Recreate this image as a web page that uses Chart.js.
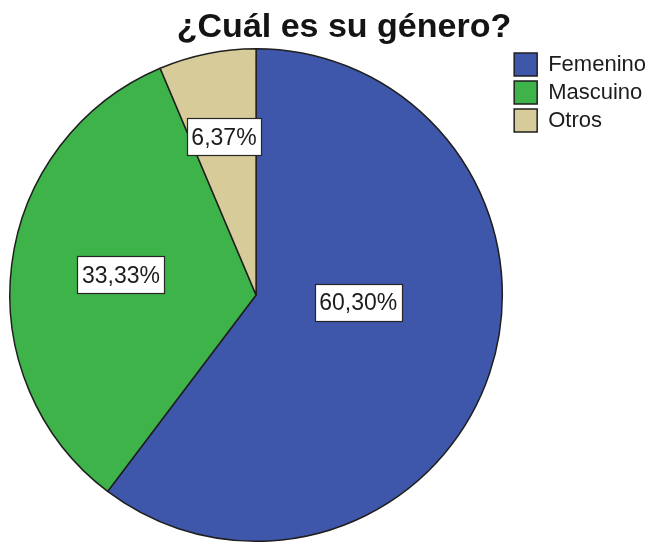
<!DOCTYPE html>
<html>
<head>
<meta charset="utf-8">
<script src="https://cdn.jsdelivr.net/npm/chart.js@4"></script>
<style>
    html, body { margin: 0; padding: 0; background: #fff; }
</style>
</head>
<body>
<canvas id="genderChart" width="653" height="546"></canvas>
<script>
const chartTitle = "¿Cuál es su género?";
const categories = ["Femenino", "Mascuino", "Otros"];
const percentages = [60.30, 33.33, 6.37];
const sliceColors = ["#3f57aa", "#3db34a", "#d7cc99"];

// where each percent box sits: share of the radius, and turn (deg) off the slice middle
const labelRadius = [0.416, 0.555, 0.656];
const labelTurn = [-14.6, 1.4, 0];

const fontFamily = "'Liberation Sans', Arial, Helvetica, sans-serif";

// Percent boxes inside the slices + the title above the pie
const sliceLabels = {
    id: "sliceLabels",
    afterLayout(chart) {
        // nudge the legend a little closer to the right edge
        chart.legend.left += 3;
        chart.legend.right += 3;
    },
    afterDatasetsDraw(chart) {
        const ctx = chart.ctx;
        const meta = chart.getDatasetMeta(0);
        ctx.save();
        ctx.font = "23px " + fontFamily;
        ctx.textAlign = "center";
        ctx.textBaseline = "middle";
        meta.data.forEach((arc, i) => {
            const { x, y, startAngle, endAngle, outerRadius } = arc.getProps(
                ["x", "y", "startAngle", "endAngle", "outerRadius"], true
            );
            const angle = (startAngle + endAngle) / 2 + (labelTurn[i] * Math.PI) / 180;
            const r = outerRadius * labelRadius[i];
            const lx = x + Math.cos(angle) * r;
            const ly = y + Math.sin(angle) * r;
            const text = percentages[i].toFixed(2).replace(".", ",") + "%";
            const w = Math.round(ctx.measureText(text).width + 9);
            const h = 37;
            const bx = Math.round(lx - w / 2) + 0.5;
            const by = Math.round(ly - h / 2) + 0.5;
            ctx.fillStyle = "#ffffff";
            ctx.fillRect(bx, by, w, h);
            ctx.strokeStyle = "#262626";
            ctx.lineWidth = 1.2;
            ctx.strokeRect(bx, by, w, h);
            ctx.fillStyle = "#1c1c1c";
            ctx.fillText(text, lx, ly + 2);
        });
        ctx.restore();
    },
    afterDraw(chart) {
        const ctx = chart.ctx;
        ctx.save();
        ctx.font = "bold 34px " + fontFamily;
        ctx.textAlign = "center";
        ctx.textBaseline = "alphabetic";
        ctx.fillStyle = "#141414";
        ctx.fillText(chartTitle, 344, 37);
        ctx.restore();
    },
};

const genderChart = new Chart(document.getElementById("genderChart"), {
    type: "pie",
    data: {
        labels: categories,
        datasets: [
            {
                data: percentages,
                backgroundColor: sliceColors,
                borderColor: "#1f1f1f",
                borderWidth: 1.5,
                hoverOffset: 0,
            },
        ],
    },
    options: {
        responsive: false,
        animation: false,
        layout: {
            padding: { top: 48, right: 0, bottom: 4, left: 6 },
        },
        plugins: {
            title: { display: false },
            legend: {
                position: "right",
                align: "start",
                labels: {
                    color: "#1c1c1c",
                    font: { family: fontFamily, size: 22 },
                    boxWidth: 23,
                    boxHeight: 23,
                    padding: 5,
                },
            },
            tooltip: {
                callbacks: {
                    label: function (context) {
                        return context.label + ": " + context.raw.toFixed(2).replace(".", ",") + "%";
                    },
                },
            },
        },
    },
    plugins: [sliceLabels],
});
</script>
</body>
</html>
